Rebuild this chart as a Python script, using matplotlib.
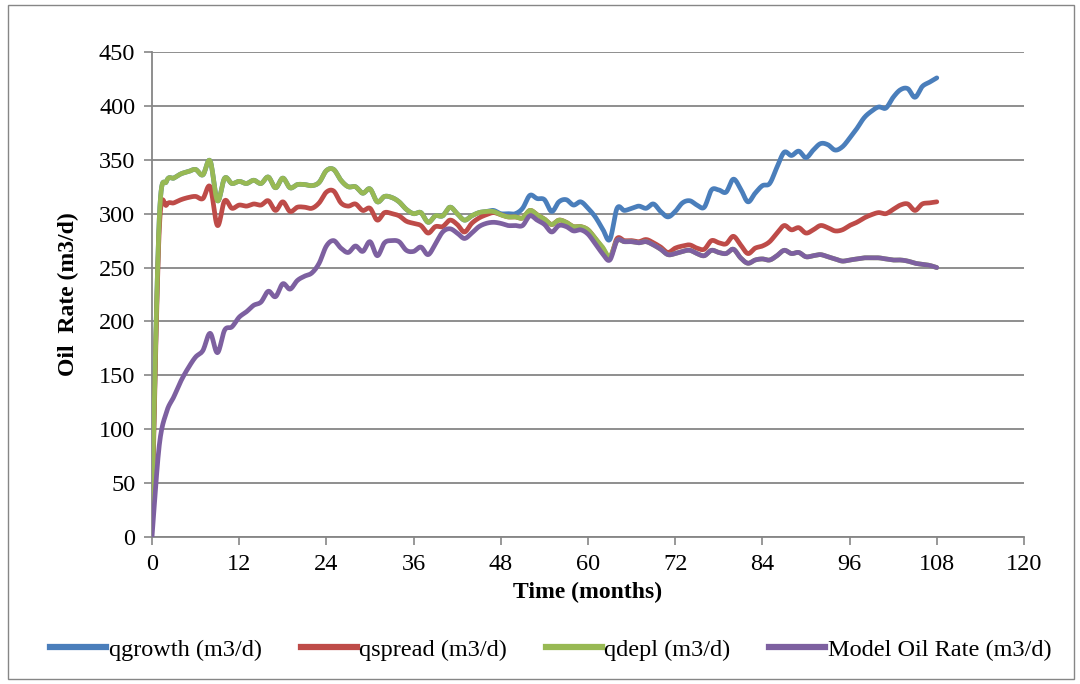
import numpy as np
import matplotlib
matplotlib.use("Agg")
import matplotlib.pyplot as plt
from matplotlib.patches import Rectangle
from matplotlib.lines import Line2D

plt.rcParams['font.family'] = ['Liberation Serif', 'DejaVu Serif']

months = list(range(0, 109))

qdepl = [30, 295, 330, 333, 337, 339, 341, 336, 349, 312,
         333, 328, 330, 328, 331, 328, 334, 324, 333, 324,
         327, 327, 326, 329, 340, 341, 331, 325, 325, 319,
         323, 311, 316, 315, 311, 304, 300, 301, 292, 298,
         298, 306, 300, 294, 298, 301, 302, 302, 299, 297,
         297, 296, 303, 299, 295, 290, 294, 292, 288, 288,
         285, 277, 269, 260, 275, 274, 274, 273, 274, 271,
         267, 262, 263, 265, 266, 263, 261, 266, 264, 263,
         267, 259, 254, 257, 258, 257, 261, 266, 263, 264,
         260, 261, 262, 260, 258, 256, 257, 258, 259, 259,
         259, 258, 257, 257, 256, 254, 253, 252, 250]

qspread = [20, 285, 308, 310, 313, 315, 316, 314, 325, 289,
           312, 305, 308, 307, 309, 308, 312, 303, 311, 302,
           306, 306, 305, 310, 320, 321, 310, 307, 309, 303,
           305, 294, 301, 300, 298, 293, 291, 289, 282, 288,
           288, 294, 290, 283, 291, 296, 299, 301, 299, 297,
           297, 296, 303, 299, 295, 290, 294, 292, 288, 288,
           285, 277, 268, 259, 277, 275, 275, 274, 276, 273,
           269, 264, 268, 270, 271, 268, 267, 275, 273, 272,
           279, 271, 263, 268, 270, 274, 282, 289, 285, 287,
           282, 285, 289, 287, 284, 285, 289, 292, 296, 299,
           301, 300, 304, 308, 309, 303, 309, 310, 311]

qgrowth = [30, 295, 330, 333, 337, 339, 341, 336, 349, 312,
           333, 328, 330, 328, 331, 328, 334, 324, 333, 324,
           327, 327, 326, 329, 340, 341, 331, 325, 325, 319,
           323, 311, 316, 315, 311, 304, 300, 301, 292, 298,
           298, 306, 300, 294, 298, 301, 302, 303, 300, 300,
           300, 305, 317, 314, 313, 302, 311, 313, 308, 311,
           305, 297, 286, 276, 305, 303, 305, 307, 305, 309,
           302, 297, 302, 310, 312, 308, 306, 322, 322, 320,
           332, 323, 311, 319, 326, 328, 343, 357, 354, 358,
           352, 359, 365, 364, 359, 362, 370, 379, 389, 395,
           399, 398, 408, 415, 416, 408, 418, 422, 426]

model_rate = [0, 85, 116, 130, 145, 157, 167, 173, 189, 171,
              192, 195, 204, 209, 215, 218, 228, 223, 235, 230,
              238, 242, 245, 254, 270, 275, 268, 264, 270, 265,
              274, 261, 273, 275, 274, 266, 265, 269, 262, 272,
              283, 286, 282, 277, 282, 288, 291, 292, 291, 289,
              289, 289, 298, 294, 290, 283, 289, 288, 284, 285,
              281, 272, 263, 257, 275, 274, 274, 273, 274, 271,
              267, 262, 263, 265, 266, 263, 261, 266, 264, 263,
              267, 259, 254, 257, 258, 257, 261, 266, 263, 264,
              260, 261, 262, 260, 258, 256, 257, 258, 259, 259,
              259, 258, 257, 257, 256, 254, 253, 252, 250]

series_names = ["qgrowth (m3/d)", "qspread (m3/d)", "qdepl (m3/d)", "Model Oil Rate (m3/d)"]
series_data = [qgrowth, qspread, qdepl, model_rate]
colors = ["#4A7EBB", "#BE4B48", "#98B954", "#7D60A0"]

x_ticks = [0, 12, 24, 36, 48, 60, 72, 84, 96, 108, 120]
y_ticks = [0, 50, 100, 150, 200, 250, 300, 350, 400, 450]


def smooth(x, y, n=12):
    pts = np.column_stack([np.asarray(x, float), np.asarray(y, float)])
    P = np.vstack([pts[0], pts, pts[-1]])
    out = []
    t = np.linspace(0, 1, n, endpoint=False)[:, None]
    for i in range(len(pts) - 1):
        p0, p1, p2, p3 = P[i], P[i + 1], P[i + 2], P[i + 3]
        c1 = p1 + (p2 - p0) / 6.0
        c2 = p2 - (p3 - p1) / 6.0
        b = ((1 - t) ** 3) * p1 + 3 * ((1 - t) ** 2) * t * c1 + 3 * (1 - t) * t ** 2 * c2 + t ** 3 * p2
        out.append(b)
    out.append(pts[-1:])
    return np.vstack(out)


fig = plt.figure(figsize=(10.8, 6.84), dpi=100)
fig.patches.append(Rectangle((0.007, 0.008), 0.987, 0.985, transform=fig.transFigure,
                             fill=False, edgecolor="#868686", linewidth=1.0))
ax = fig.add_axes([152 / 1080, 1 - 537 / 684, (1024 - 152) / 1080, (537 - 52) / 684])

for name, data, c in zip(series_names, series_data, colors):
    s = smooth(months, data)
    ax.plot(s[:, 0], s[:, 1], color=c, linewidth=3.4, solid_capstyle="round",
            solid_joinstyle="round", label=name, zorder=3)

ax.set_xlim(0, 120)
ax.set_ylim(0, 450)
ax.set_xticks(x_ticks)
ax.set_yticks(y_ticks)
ax.tick_params(axis="both", labelsize=17.5, direction="out", length=6, width=1.2,
               color="#868686", pad=6)
ax.yaxis.grid(True, color="#868686", linewidth=1.3)
ax.set_axisbelow(True)
for side in ["top", "right"]:
    ax.spines[side].set_visible(False)
for side in ["left", "bottom"]:
    ax.spines[side].set_color("#868686")
    ax.spines[side].set_linewidth(1.3)

ax.set_xlabel("Time (months)", fontsize=17, fontweight="bold", labelpad=5)
ax.set_ylabel("Oil  Rate (m3/d)", fontsize=17, fontweight="bold", labelpad=14)

handles = [Line2D([0], [0], color=c, linewidth=4.5) for c in colors]
fig.legend(handles, series_names, loc="center", bbox_to_anchor=(0.51, 0.05), ncol=4,
           frameon=False, fontsize=17.5, handlelength=2.3, handletextpad=0.1, columnspacing=1.6)

fig.savefig("out.png", dpi=100)
